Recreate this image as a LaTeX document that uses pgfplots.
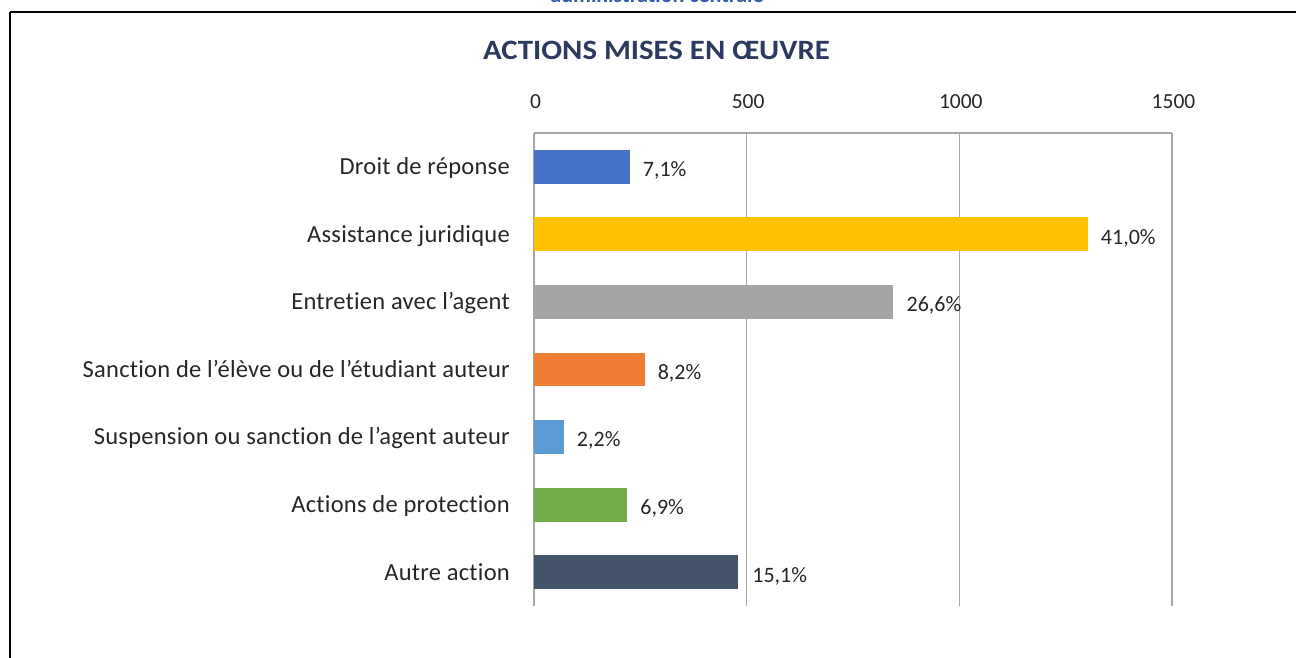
\documentclass[border=0pt]{standalone}
\usepackage{pgfplots}
\pgfplotsset{compat=1.18}
\usepackage{fontspec}
\setmainfont{Carlito}[Ligatures=NoCommon]
\definecolor{c1}{HTML}{4472C4}
\definecolor{c2}{HTML}{FFC000}
\definecolor{c3}{HTML}{A5A5A5}
\definecolor{c4}{HTML}{ED7D31}
\definecolor{c5}{HTML}{5B9BD5}
\definecolor{c6}{HTML}{70AD47}
\definecolor{c7}{HTML}{44546A}
\definecolor{titlecol}{HTML}{2B3A5E}
\definecolor{adminblue}{HTML}{2F5DA8}
\definecolor{gridcol}{HTML}{A6A6A6}
\definecolor{txt}{HTML}{262626}
\begin{document}
\begin{tikzpicture}[x=1pt,y=1pt]
\useasboundingbox (0,0) rectangle (1296,657);
\clip (0,0) rectangle (1296,657);
\node[anchor=base, text=adminblue, inner sep=0pt, font=\fontsize{22}{26}\selectfont\bfseries] at (657,654) {administration centrale};
\draw[line width=2pt] (10,645) -- (1296,645);
\draw[line width=1.5pt] (10,645) -- (10,-5);
\node[anchor=base, inner sep=0pt, text=titlecol, font=\fontsize{28}{30}\selectfont\bfseries, xscale=1.1] at (656.5,597) {ACTIONS MISES EN ŒUVRE};
\begin{axis}[
  at={(534pt,51pt)}, anchor=south west,
  scale only axis, width=638pt, height=473pt,
  xbar, bar shift=0pt, bar width=0.5,
  every axis plot/.append style={bar shift=0pt, bar width=0.5, draw=none},
  xmin=0, xmax=1500, ymin=-0.5, ymax=6.5,
  enlargelimits=false,
  y dir=reverse,
  axis x line*=top, axis y line*=left,
  axis line style={gridcol, line width=1.5pt},
  xmajorgrids, grid style={gridcol, line width=1.5pt},
  major tick length=0pt,
  xtick={0,500,1000,1500}, xticklabels={0,500,1000,1500},
  xticklabel style={anchor=base, inner sep=0pt, yshift=25pt, xshift=1.5pt, font=\fontsize{21.5}{24}\selectfont, text=txt},
  ytick={0,1,2,3,4,5,6},
  yticklabels={Droit de réponse, Assistance juridique, Entretien avec l’agent, Sanction de l’élève ou de l’étudiant auteur, Suspension ou sanction de l’agent auteur, Actions de protection, Autre action},
  yticklabel style={anchor=base east, inner sep=0pt, xshift=-24pt, yshift=-7.8pt, font=\fontsize{24.5}{27}\selectfont\addfontfeature{LetterSpace=1}, text=txt},
  nodes near coords, point meta=explicit symbolic,
  nodes near coords style={anchor=base west, inner sep=0pt, xshift=13pt, yshift=-9.9pt, font=\fontsize{22}{25}\selectfont, text=txt},
]
\addplot[fill=c1] coordinates {(225,0) [7,1\%]};
\addplot[fill=c2] coordinates {(1302,1) [41,0\%]};
\addplot[fill=c3] coordinates {(845,2) [26,6\%]};
\addplot[fill=c4] coordinates {(260,3) [8,2\%]};
\addplot[fill=c5] coordinates {(70,4) [2,2\%]};
\addplot[fill=c6] coordinates {(219,5) [6,9\%]};
\addplot[fill=c7, nodes near coords style={xshift=1.5pt}] coordinates {(479,6) [15,1\%]};
\end{axis}
\end{tikzpicture}
\end{document}
